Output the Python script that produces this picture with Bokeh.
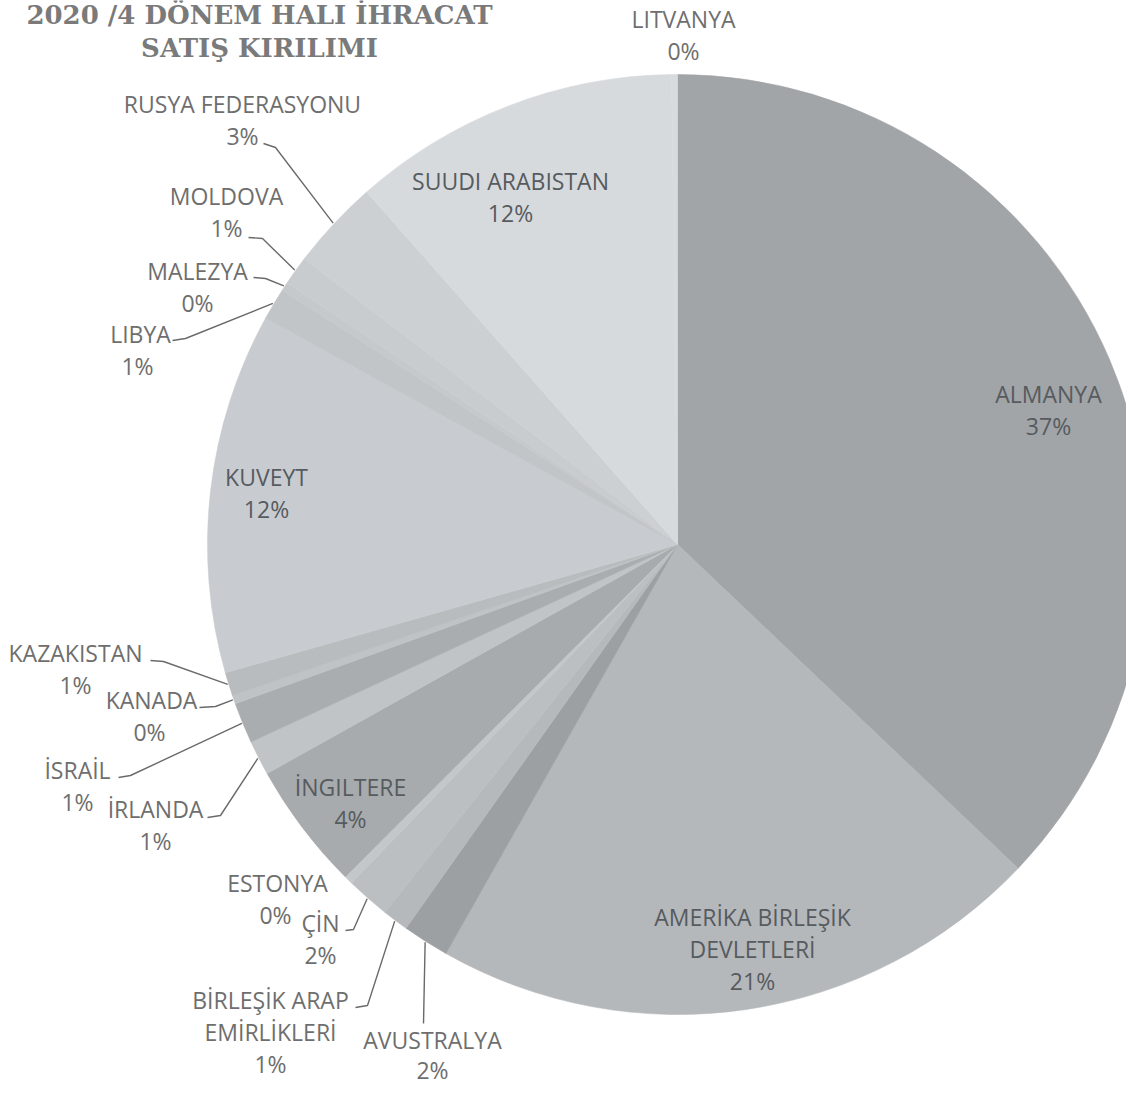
import numpy as np
from bokeh.plotting import figure
from bokeh.models import ColumnDataSource, Range1d
from bokeh.core.properties import value
from bokeh.embed import file_html
from bokeh.resources import INLINE

# ---------------- data ----------------
countries = ["ALMANYA", "AMERİKA BİRLEŞİK DEVLETLERİ", "AVUSTRALYA", "BİRLEŞİK ARAP EMİRLİKLERİ",
             "ÇİN", "ESTONYA", "İNGİLTERE", "İRLANDA", "İSRAİL", "KANADA", "KAZAKİSTAN",
             "KUVEYT", "LİBYA", "MALEZYA", "MOLDOVA", "RUSYA FEDERASYONU", "SUUDİ ARABİSTAN", "LİTVANYA"]
shares = [37.1, 21.1, 1.6, 0.9, 1.5, 0.3, 4.4, 1.2, 1.4, 0.3, 0.8,
          12.4, 1.1, 0.3, 1.0, 3.1, 11.3, 0.2]
pct_labels = ["37%", "21%", "2%", "1%", "2%", "0%", "4%", "1%", "1%", "0%", "1%",
              "12%", "1%", "0%", "1%", "3%", "12%", "0%"]
name_lines = [["ALMANYA"], ["AMERİKA BİRLEŞİK", "DEVLETLERİ"], ["AVUSTRALYA"], ["BİRLEŞİK ARAP", "EMİRLİKLERİ"],
              ["ÇİN"], ["ESTONYA"], ["İNGILTERE"], ["İRLANDA"], ["İSRAİL"], ["KANADA"], ["KAZAKISTAN"],
              ["KUVEYT"], ["LIBYA"], ["MALEZYA"], ["MOLDOVA"], ["RUSYA FEDERASYONU"], ["SUUDI ARABISTAN"], ["LITVANYA"]]
colors = ["#a2a5a7", "#b5b8bb", "#9da0a2", "#b6b9bb", "#bcbfc1", "#c4c7c9", "#a8abad", "#c1c4c6",
          "#aaadaf", "#c0c3c5", "#b9bcbe", "#c8ccd0", "#c2c5c8", "#c6c9cb", "#c9ccce", "#cdd0d3",
          "#d7dadd", "#d8dbde"]
title_lines = ["2020 /4 DÖNEM HALI İHRACAT", "SATIŞ KIRILIMI"]

# ---------------- layout ----------------
W, H = 1126, 1088
CX, CY, R = 677, 544, 470

label_pos = {
    0: (1048, 393), 1: (752, 916), 2: (432, 1039), 3: (270, 999), 4: (320, 922), 5: (277, 882),
    6: (350, 786), 7: (155, 808), 8: (77, 769), 9: (151, 699), 10: (75, 652), 11: (266, 476),
    12: (140, 333), 13: (197, 270), 14: (226, 195), 15: (242, 103), 16: (510, 180), 17: (683, 18),
}
pct_dx = {9: -2, 5: -2, 12: -3}
LS = 32
LS_SMALL = {2: 30}
leaders = {
    15: [(263, 143), (275, 147)],
    14: [(248, 237), (262, 238)],
    13: [(253, 277), (265, 278)],
    12: [(172, 340), (185, 338)],
    10: [(150, 660), (163, 661)],
    9: [(199, 707), (215, 706)],
    8: [(118, 777), (130, 775)],
    7: [(207, 817), (220, 815)],
    4: [(345, 930), (353, 929)],
    3: [(355, 1007), (367, 1005)],
    2: [(423, 1023), (423, 1023)],
}
inside = {0, 1, 6, 11, 16}

p = figure(width=W, height=H, output_backend="svg", toolbar_location=None,
           x_range=Range1d(0, W), y_range=Range1d(-H, 0),
           min_border=0, match_aspect=False)
p.axis.visible = False
p.grid.visible = False
p.outline_line_color = None
p.background_fill_color = "white"

frac = np.array(shares) / np.sum(shares)
cum = np.concatenate([[0], np.cumsum(frac)])
start = np.pi / 2 - 2 * np.pi * cum[:-1]
end = np.pi / 2 - 2 * np.pi * cum[1:]
src = ColumnDataSource(dict(start=start, end=end, color=colors, name=countries))
p.wedge(x=CX, y=-CY, radius=R, start_angle="start", end_angle="end", direction="clock",
        fill_color="color", line_color="color", line_width=0.6, source=src)

mid = (cum[:-1] + cum[1:]) / 2
xs, ys = [], []
for i, pts in leaders.items():
    th = 2 * np.pi * mid[i]
    ex = CX + (R + 1) * np.sin(th)
    ey = CY - (R + 1) * np.cos(th)
    xs.append([pts[0][0], pts[1][0], ex])
    ys.append([-pts[0][1], -pts[1][1], -ey])
p.multi_line(xs=xs, ys=ys, line_color="#6a6a6a", line_width=1.4)

tx, ty, tt, tc = [], [], [], []
for i in range(len(countries)):
    x0, y0 = label_pos[i]
    lines = name_lines[i]
    ls = LS_SMALL.get(i, LS)
    col = "#565b5f" if i in inside else "#6e6e6e"
    for k, ln in enumerate(lines):
        tx.append(x0); ty.append(-(y0 + k * ls)); tt.append(ln); tc.append(col)
    tx.append(x0 + pct_dx.get(i, 0)); ty.append(-(y0 + len(lines) * ls)); tt.append(pct_labels[i]); tc.append(col)
p.text(x=tx, y=ty, text=tt, text_color=tc, text_font=value("Open Sans"), text_font_size="23px",
       text_align="center", text_baseline="middle")

p.text(x=[259, 259], y=[-14, -47], text=title_lines, text_color="#7a7a7a",
       text_font=value("DejaVu Serif"), text_font_style="bold", text_font_size="26px",
       text_align="center", text_baseline="middle")

open("out.html", "w").write(file_html(p, INLINE))
